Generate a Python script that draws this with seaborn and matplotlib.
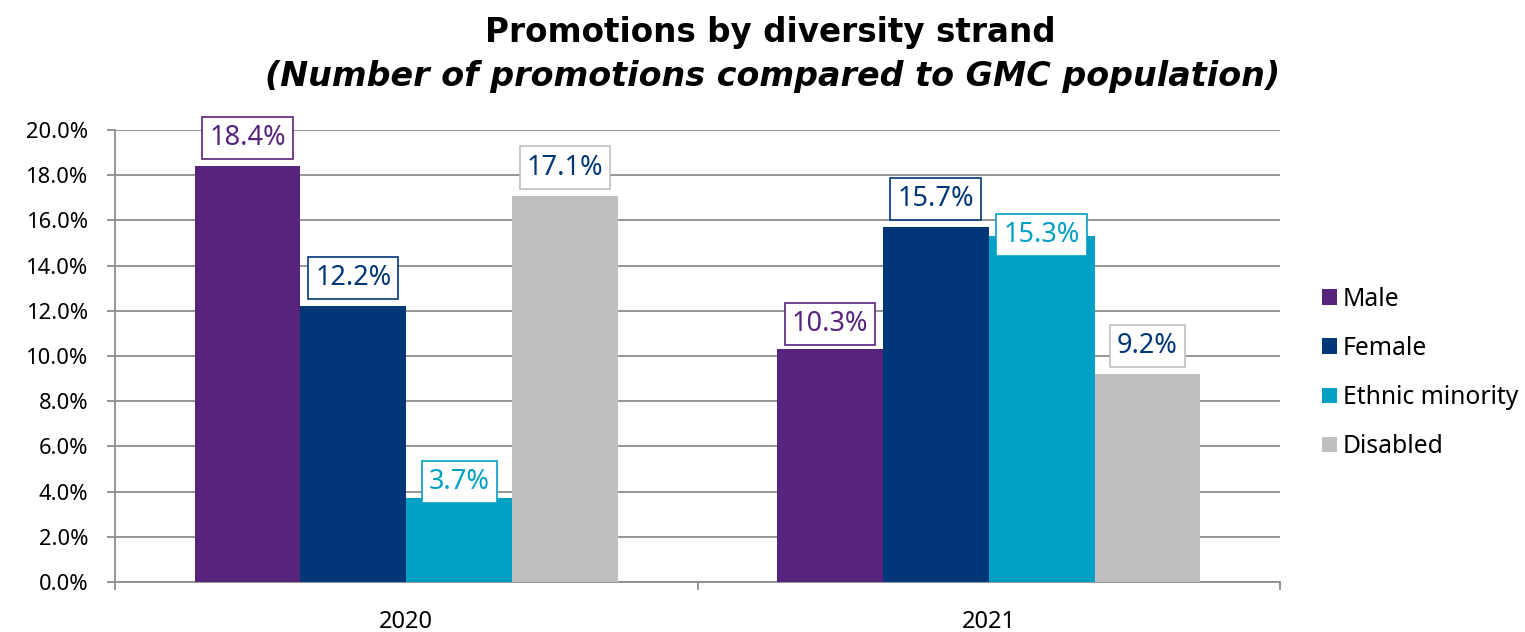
import matplotlib
matplotlib.use("Agg")
import matplotlib.pyplot as plt
import seaborn as sns
import pandas as pd
from matplotlib.ticker import FuncFormatter, FixedLocator

# ---- data -------------------------------------------------------------
years = ["2020", "2021"]
strands = ["Male", "Female", "Ethnic minority", "Disabled"]
male = [18.4, 10.3]
female = [12.2, 15.7]
ethnic_minority = [3.7, 15.3]
disabled = [17.1, 9.2]

# ---- styling ----------------------------------------------------------
bar_colors = ["#57237D", "#003778", "#00A0C4", "#BFBFBF"]
label_text_colors = ["#57237D", "#003778", "#00A0C4", "#003778"]
label_edge_colors = ["#57237D", "#003778", "#00A0C4", "#BFBFBF"]
grid_color = "#8E8E8E"
# vertical distance (px) from bar top to the centre of its value box
label_offset_px = 28
label_offset_override = {("2021", "Male"): 25,
                         ("2020", "Ethnic minority"): 16,
                         ("2021", "Ethnic minority"): 1}

df = pd.DataFrame({
    "Year": years * len(strands),
    "Strand": [s for s in strands for _ in years],
    "Value": male + female + ethnic_minority + disabled,
})

sns.set_style("white")
plt.rcParams["font.family"] = ["Noto Sans", "DejaVu Sans"]
plt.rcParams["text.color"] = "black"
plt.rcParams["xtick.color"] = "black"
plt.rcParams["ytick.color"] = "black"

DPI = 100
fig = plt.figure(figsize=(15.25, 6.32), dpi=DPI)
ax = fig.add_axes([115 / 1525, 1 - 582 / 632, (1280 - 115) / 1525, (582 - 130) / 632])

sns.barplot(data=df, x="Year", y="Value", hue="Strand", order=years,
            hue_order=strands, palette=bar_colors, saturation=1,
            width=0.727, dodge=True, edgecolor="none", linewidth=0, ax=ax,
            errorbar=None, zorder=3)

ax.set_ylim(0, 20)
ax.set_xlim(-0.5, 1.5)
ax.yaxis.set_major_locator(FixedLocator([i * 2 for i in range(11)]))
ax.yaxis.set_major_formatter(FuncFormatter(lambda v, _: f"{v:.1f}%"))
ax.set_xlabel("")
ax.set_ylabel("")

ax.grid(axis="y", color=grid_color, linewidth=1.3, zorder=0)
ax.grid(axis="x", visible=False)
ax.set_axisbelow(True)
for side in ("top", "right"):
    ax.spines[side].set_visible(False)
for side in ("left", "bottom"):
    ax.spines[side].set_color(grid_color)
    ax.spines[side].set_linewidth(1.3)

ax.tick_params(axis="y", which="major", direction="out", length=6, width=1.3,
               color=grid_color, labelsize=15.8, labelcolor="black", pad=13, left=True)
ax.tick_params(axis="x", which="major", length=0, labelsize=17, labelcolor="black", pad=20)
ax.set_xticks([-0.5, 0.5, 1.5], minor=True)
ax.tick_params(axis="x", which="minor", direction="out", length=6, width=1.3,
               color=grid_color, bottom=True)

# value boxes above each bar
for container, strand, tcol, ecol in zip(ax.containers, strands,
                                         label_text_colors, label_edge_colors):
    for bar, year in zip(container.patches, years):
        h = bar.get_height()
        off = label_offset_override.get((year, strand), label_offset_px)
        ax.annotate(f"{h:.1f}%", xy=(bar.get_x() + bar.get_width() / 2, h),
                    xytext=(0, off * 72 / DPI), textcoords="offset points",
                    ha="center", va="center", fontsize=19.5, color=tcol, zorder=5,
                    bbox=dict(boxstyle="square,pad=0.26", facecolor="white",
                              edgecolor=ecol, linewidth=1.2))

# legend on the right
handles, labels = ax.get_legend_handles_labels()
ax.get_legend().remove()
fig.legend(handles, labels, loc="center left", bbox_to_anchor=(1322 / 1525, 1 - 373 / 632),
           frameon=False, fontsize=17.8, handlelength=0.6, handleheight=0.6,
           handletextpad=0.25, labelspacing=0.98, borderpad=0, borderaxespad=0,
           labelcolor="black")

fig.text(770 / 1525, 1 - 42 / 632, "Promotions by diversity strand",
         ha="center", va="baseline", fontsize=23.5, fontweight="bold",
         family="DejaVu Sans", color="black")
fig.text(773 / 1525, 1 - 86 / 632, "(Number of promotions compared to GMC population)",
         ha="center", va="baseline", fontsize=24, fontweight="bold", style="italic",
         family="DejaVu Sans", color="black")

fig.savefig("out.png", dpi=DPI)
